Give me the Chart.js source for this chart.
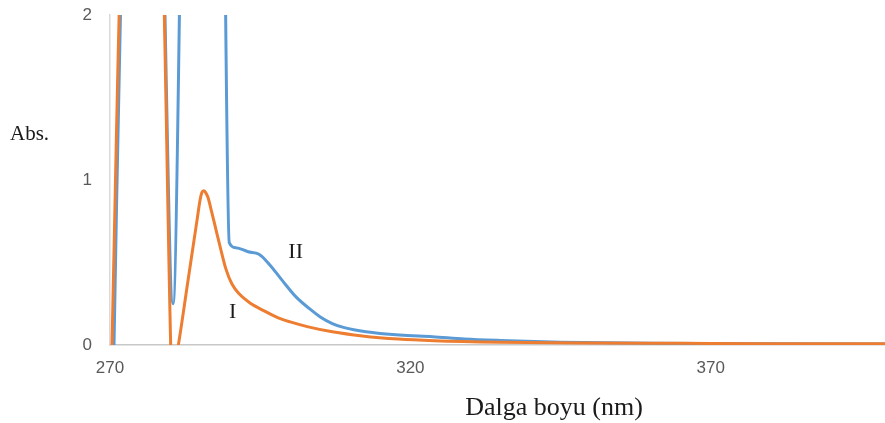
<!DOCTYPE html>
<html>
<head>
<meta charset="utf-8">
<script src="https://cdn.jsdelivr.net/npm/chart.js@4.4.1/dist/chart.umd.min.js"></script>
<style>
  html, body { margin: 0; padding: 0; background: #fff; }
  canvas { display: block; }
</style>
</head>
<body>
<canvas id="absChart" width="885" height="423"></canvas>
<script>
    // curve I (orange)
    const waveI = [270.33, 272, 275, 278, 280.1, 280.24, 281.38, 282.9, 284.5, 285.0, 285.3, 285.6, 285.9, 286.3, 286.9, 287.5, 288.3, 289.3, 290.3, 291.5, 293.3, 295.5, 298, 300, 303, 307, 312, 318, 324, 335, 350, 365, 380, 399];
    const absI  = [0, 2.6, 3.5, 3.3, 0, -0.22, 0, 0.37, 0.76, 0.88, 0.925, 0.935, 0.925, 0.895, 0.81, 0.72, 0.6, 0.46, 0.37, 0.31, 0.255, 0.21, 0.165, 0.14, 0.11, 0.08, 0.055, 0.036, 0.026, 0.017, 0.012, 0.01, 0.008, 0.007];

    // curve II (blue)
    const waveII = [270.67, 272, 275, 278, 280.5, 282.5, 285, 288.5, 289.85, 290.95, 293, 294.8, 296.5, 298.7, 301, 303.2, 305, 307, 309, 312.6, 318.2, 323.7, 329, 335, 345, 360, 380, 399];
    const absII  = [0, 2.46, 3.8, 3.54, 0.25, 3.75, 4.2, 3.95, 0.62, 0.59, 0.565, 0.55, 0.49, 0.39, 0.29, 0.22, 0.17, 0.13, 0.105, 0.08, 0.06, 0.05, 0.037, 0.028, 0.017, 0.01, 0.007, 0.006];

    const xTicks = [270, 320, 370];
    const yTicks = [0, 1, 2];

    const toPoints = (xs, ys) => xs.map((x, i) => ({ x: x, y: ys[i] }));

    // text labels on the plot: [text, wavelength, absorbance]
    const curveLabels = [['I', 290.4, 0.2], ['II', 300.9, 0.56]];

    const textPlugin = {
      id: 'texts',
      afterDraw(chart) {
        const ctx = chart.ctx;
        const xs = chart.scales.x, ys = chart.scales.y;
        ctx.save();
        ctx.fillStyle = '#1a1a1a';
        ctx.textAlign = 'center';
        ctx.textBaseline = 'middle';
        ctx.font = '22px "Liberation Serif"';
        curveLabels.forEach(l => {
          ctx.fillText(l[0], xs.getPixelForValue(l[1]), ys.getPixelForValue(l[2]));
        });
        ctx.font = '21px "Liberation Serif"';
        ctx.textAlign = 'left';
        ctx.textBaseline = 'alphabetic';
        ctx.fillText('Abs.', 10, 140);
        ctx.font = '26px "Liberation Serif"';
        ctx.textAlign = 'center';
        ctx.fillText('Dalga boyu (nm)', 554, 415);
        ctx.restore();
      }
    };

    // keep the plot box fixed: no extra padding from the tick labels
    const noPad = s => { s.paddingTop = 0; s.paddingBottom = 0; s.paddingLeft = 0; s.paddingRight = 0; };

    const ctx = document.getElementById('absChart').getContext('2d');
    const absChart = new Chart(ctx, {
      type: 'line',
      data: {
        datasets: [{
          label: 'I',
          data: toPoints(waveI, absI),
          borderColor: '#ED7D31',
          borderWidth: 3,
          pointRadius: 0,
          cubicInterpolationMode: 'monotone'
        }, {
          label: 'II',
          data: toPoints(waveII, absII),
          borderColor: '#5B9BD5',
          borderWidth: 3,
          pointRadius: 0,
          cubicInterpolationMode: 'monotone'
        }]
      },
      options: {
        responsive: false,
        animation: false,
        layout: { padding: { top: 15, right: 0, left: 0, bottom: 0 } },
        plugins: {
          legend: { display: false },
          tooltip: { enabled: false }
        },
        scales: {
          x: {
            type: 'linear',
            min: 270,
            max: 399,
            grid: { display: false, drawTicks: false },
            border: { display: true, color: '#c8c8c8', width: 1.5 },
            afterBuildTicks: s => { s.ticks = xTicks.map(v => ({ value: v })); },
            afterFit: s => { s.height = 78; noPad(s); },
            ticks: { padding: 13, color: '#595959', font: { family: 'Liberation Sans', size: 17 }, maxRotation: 0 }
          },
          y: {
            min: 0,
            max: 2,
            grid: { display: false, drawTicks: false },
            border: { display: true, color: '#d9d9d9', width: 1.5 },
            afterBuildTicks: s => { s.ticks = yTicks.map(v => ({ value: v })); },
            afterFit: s => { s.width = 110; noPad(s); },
            ticks: { padding: 18, color: '#595959', font: { family: 'Liberation Sans', size: 17 } }
          }
        }
      },
      plugins: [textPlugin]
    });
</script>
</body>
</html>
